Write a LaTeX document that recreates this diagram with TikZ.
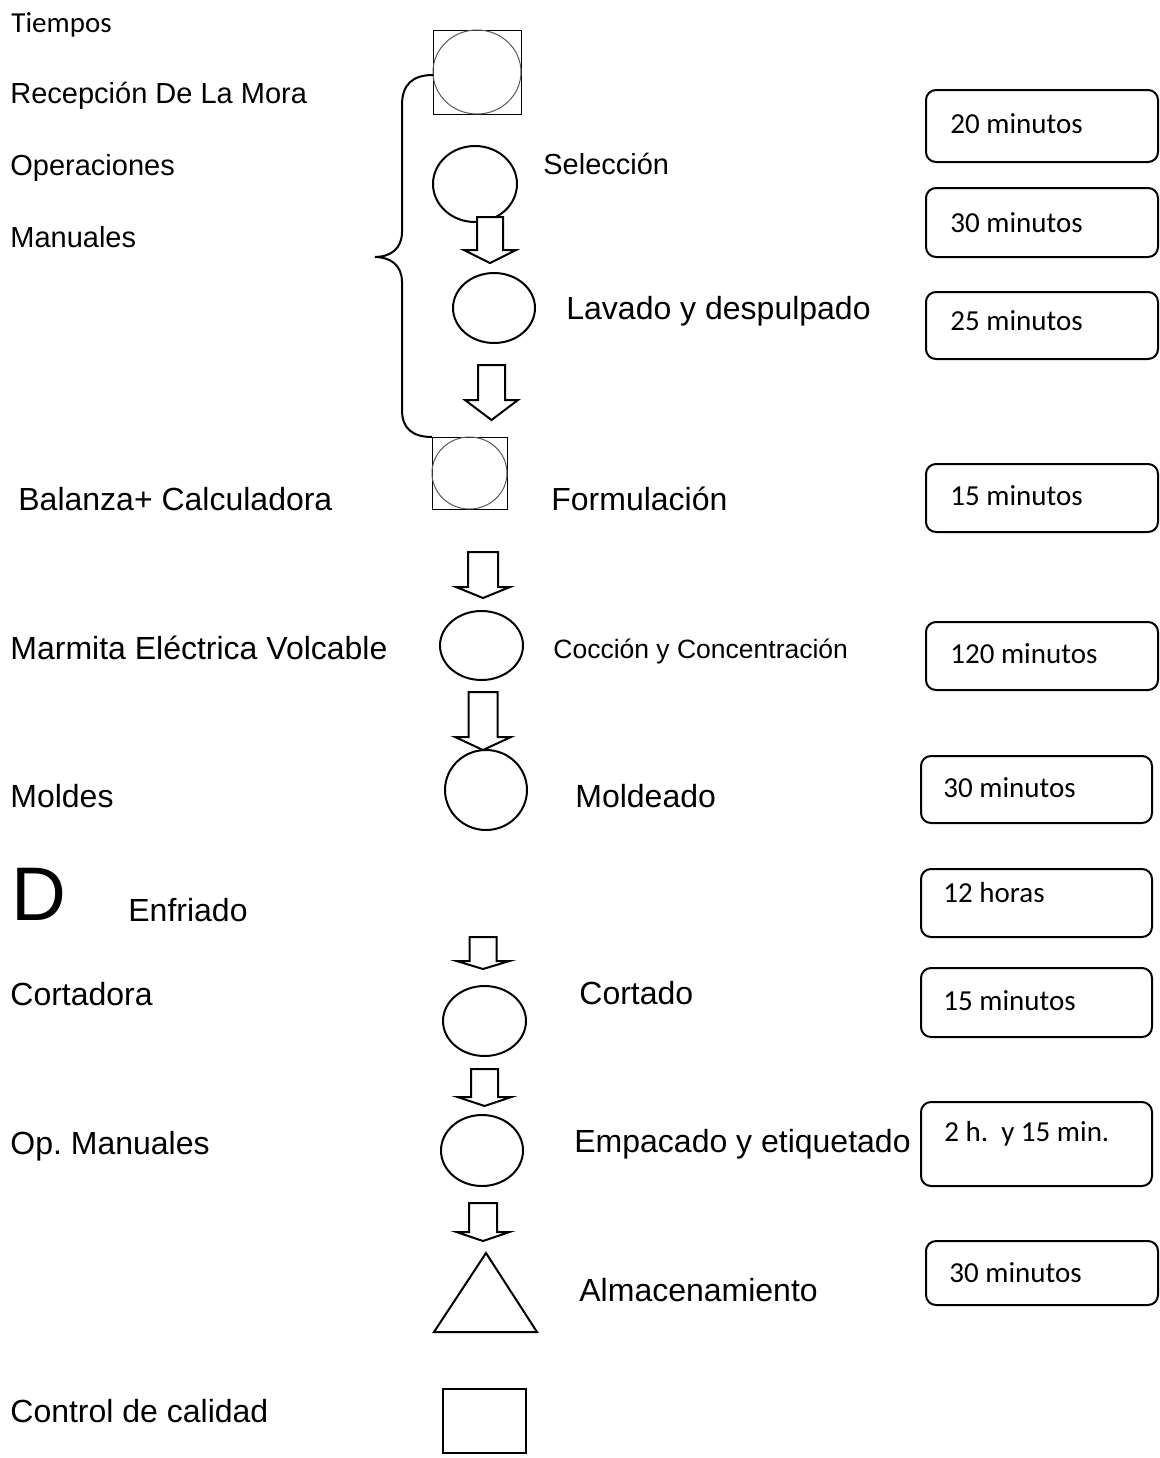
\documentclass[tikz,border=0pt]{standalone}
\usepackage{fontspec}
\setmainfont{Liberation Sans}
\newfontfamily\calfont{Carlito}
\usetikzlibrary{shapes.geometric,fit}
\frenchspacing
\newcommand\blockarr[7]{% cx, top, headbase, tip, shafthalf, headhalf, name
  \draw[line width=1pt, fill=white, line join=miter]
    (#1-#5,#2) -- (#1+#5,#2) -- (#1+#5,#3) -- (#1+#6,#3) -- (#1,#4) -- (#1-#6,#3) -- (#1-#5,#3) -- cycle;
  \coordinate (#7) at (#1,#4);}
\begin{document}
\begin{tikzpicture}[x=0.5pt,y=-0.5pt,
  lab/.style={anchor=base west, inner sep=0pt, font=\fontsize{16pt}{19pt}\selectfont},
  labs/.style={anchor=base west, inner sep=0pt, font=\fontsize{14.5pt}{17pt}\selectfont},
  labc/.style={anchor=base west, inner sep=0pt, font=\fontsize{13.25pt}{16pt}\selectfont},
  ttext/.style={anchor=base west, inner sep=0pt, font=\calfont\fontsize{14.5pt}{17pt}\selectfont},
  tbox/.style={draw, rounded corners=5pt, line width=1pt, inner sep=0pt},
  oval/.style={draw, ellipse, inner sep=0pt, outer sep=0pt, line width=1pt},
  sqbox/.style={draw, inner sep=0pt, outer sep=0pt, line width=0.5pt},
  incirc/.style={draw=black!65, ellipse, inner sep=0pt, line width=0.5pt}]
\useasboundingbox (0,0) rectangle (1160,1458);
\fill[white] (0,0) rectangle (1160,1458);

% left labels
\node[ttext] (tiempos) at (11,32) {Tiempos};
\node[labs] (recep) at (10,103) {Recepción De La Mora};
\node[labs] (oper) at (10,175) {Operaciones};
\node[labs] (manu) at (10,247) {Manuales};
\node[lab] (balanza) at (18,510) {Balanza+ Calculadora};
\node[lab] (marmita) at (10,659) {Marmita Eléctrica Volcable};
\node[lab] (moldes) at (10,807) {Moldes};
\node[anchor=base west, inner sep=0pt, font=\fontsize{38pt}{40pt}\selectfont] (D) at (11,920) {D};
\node[lab] (enfriado) at (128,921) {Enfriado};
\node[lab] (cortadora) at (10,1005) {Cortadora};
\node[lab] (opman) at (10,1154) {Op.\ Manuales};
\node[lab] (control) at (10,1422) {Control de calidad};

% middle labels
\node[labs] (selec) at (543,174) {Selección};
\node[lab] (lavado) at (566,319) {Lavado y despulpado};
\node[lab] (formul) at (551,510) {Formulación};
\node[labc] (coccion) at (553,658) {Cocción y Concentración};
\node[lab] (moldeado) at (575,807) {Moldeado};
\node[lab] (cortado) at (579,1004) {Cortado};
\node[lab] (empac) at (574,1152) {Empacado y etiquetado};
\node[lab] (almac) at (579,1301) {Almacenamiento};

% shapes
\node[sqbox, minimum width=44pt, minimum height=42pt] (sq1) at (477,72) {};
\node[incirc, minimum width=44pt, minimum height=42pt] (c1) at (477,72) {};
\node[oval, minimum width=42pt, minimum height=38pt] (e1) at (475,184) {};
\node[oval, minimum width=41pt, minimum height=35pt] (e2) at (494,308) {};
\node[sqbox, minimum width=37.5pt, minimum height=36pt] (sq2) at (469.5,473) {};
\node[incirc, minimum width=37.5pt, minimum height=36pt] (c2) at (469.5,473) {};
\node[oval, minimum width=41.5pt, minimum height=34.5pt] (e3) at (481.5,645.5) {};
\node[oval, minimum width=41pt, minimum height=40pt] (e4) at (486,790) {};
\node[oval, minimum width=41.5pt, minimum height=35pt] (e5) at (484.5,1021) {};
\node[oval, minimum width=41pt, minimum height=35.5pt] (e6) at (482,1150.5) {};
\draw[line width=1pt, line join=miter] (486,1253) -- (537,1332) -- (434,1332) -- cycle;
\node[sqbox, line width=1pt, fit={(443,1389) (526,1453)}] (sqf) {};

% brace
\draw[line width=1pt] (sq1.west |- 0,75) .. controls (412,75) and (402,85) .. (402,105) -- (402,232)
  .. controls (402,249) and (390,257) .. (375,257)
  .. controls (390,257) and (402,265) .. (402,282) -- (402,410)
  .. controls (402,428) and (412,437) .. (sq2.north west);

% block arrows
\blockarr{490}{217}{250}{263}{13}{26}{a1}
\blockarr{491.5}{365}{400}{420}{13.5}{26.5}{a2}
\blockarr{483}{552}{587}{598}{15}{27}{a3}
\blockarr{483}{692}{737}{750}{14.5}{28}{a4}
\blockarr{483}{937}{961}{969}{13.5}{26.5}{a5}
\blockarr{484.5}{1069}{1097}{1106}{13.5}{27}{a6}
\blockarr{483}{1203}{1232}{1241}{14}{26.5}{a7}

% time boxes
\node[tbox, fit={(926,90) (1158,162)}] (b1) {};
\node[ttext] (t1) at (950,133) {20 minutos};
\node[tbox, fit={(926,188) (1158,257)}] (b2) {};
\node[ttext] (t2) at (950,232) {30 minutos};
\node[tbox, fit={(926,292) (1158,359)}] (b3) {};
\node[ttext] (t3) at (950,330) {25 minutos};
\node[tbox, fit={(926,464) (1158,532)}] (b4) {};
\node[ttext] (t4) at (950,505) {15 minutos};
\node[tbox, fit={(926,622) (1158,690)}] (b5) {};
\node[ttext] (t5) at (950,663) {120 minutos};
\node[tbox, fit={(921,756) (1152,823)}] (b6) {};
\node[ttext] (t6) at (943,797) {30 minutos};
\node[tbox, fit={(921,869) (1152,937)}] (b7) {};
\node[ttext] (t7) at (943,902) {12 horas};
\node[tbox, fit={(921,968) (1152,1037)}] (b8) {};
\node[ttext] (t8) at (943,1010) {15 minutos};
\node[tbox, fit={(921,1102) (1152,1186)}] (b9) {};
\node[ttext] (t9) at (944,1141) {2 h.\ \ y 15 min.};
\node[tbox, fit={(926,1241) (1158,1305)}] (b10) {};
\node[ttext] (t10) at (949,1282) {30 minutos};
\end{tikzpicture}
\end{document}
